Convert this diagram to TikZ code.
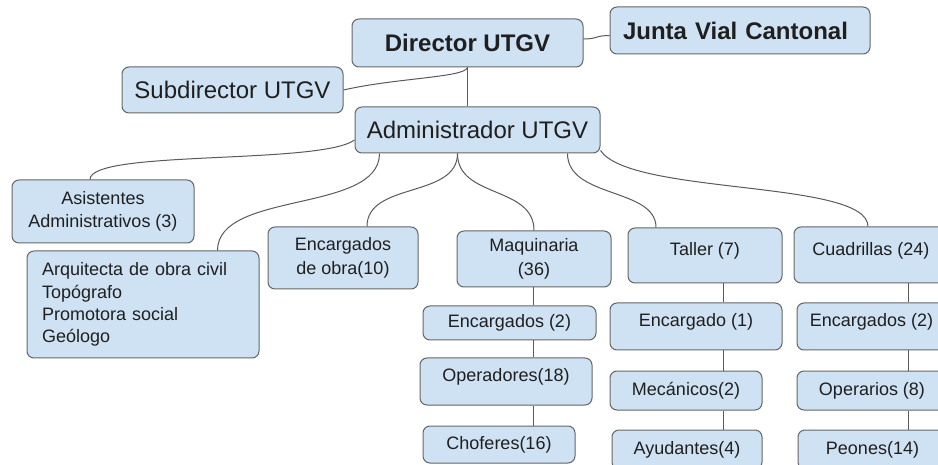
\documentclass[tikz,border=0pt]{standalone}
\usepackage{fontspec}
\setmainfont{Liberation Sans}
\definecolor{boxfill}{HTML}{CFE2F3}
\definecolor{boxline}{HTML}{666666}
\definecolor{wirecol}{HTML}{5A5A5A}
\definecolor{ink}{HTML}{1F1F1F}
\tikzset{
  unit/.style={draw=boxline, fill=boxfill, rounded corners=7pt, line width=1pt,
    inner sep=0pt, text=ink, align=center, font=\fontsize{18}{23.5}\selectfont},
  bigunit/.style={unit, font=\fontsize{24}{28}\selectfont},
  topline/.style={text depth=13pt},
  wire/.style={draw=wirecol, line width=1pt}
}
\begin{document}
\begin{tikzpicture}[x=1pt, y=-1pt]
\useasboundingbox[fill=white] (0,0) rectangle (938,465);

\node[bigunit, minimum width=231pt, minimum height=48pt] (dir) at (467.5,43) {\textbf{Director UTGV}};
\node[bigunit, minimum height=47pt, text width=234pt, inner xsep=13pt, align=left] (junta) at (740,30.5) {\textbf{Junta Vial Cantonal}};
\node[bigunit, minimum width=221pt, minimum height=46pt] (sub) at (232.5,90) {Subdirector UTGV};
\node[bigunit, minimum width=245pt, minimum height=46pt] (adm) at (477.5,130) {Administrador UTGV};

\node[unit, minimum width=182pt, minimum height=63pt] (asis) at (103,211.5) {Asistentes\\Administrativos (3)};
\node[unit, minimum height=107pt, text width=202pt, inner xsep=15pt, align=left,
  font=\fontsize{18}{22.3}\selectfont] (arq) at (143,304.5)
  {Arquitecta de obra civil\\Top\'ografo\\Promotora social\\Ge\'ologo};
\node[unit, minimum width=150pt, minimum height=62pt] (obra) at (343,258) {Encargados\\de obra(10)};
\node[unit, minimum width=154pt, minimum height=56pt] (maq) at (534,259) {Maquinaria\\(36)};
\node[unit, topline, minimum width=154pt, minimum height=55pt] (taller) at (705,255.5) {Taller (7)};
\node[unit, topline, minimum width=154pt, minimum height=56pt] (cuad) at (871,255) {Cuadrillas (24)};

\node[unit, minimum width=173pt, minimum height=34pt] (maqenc) at (509.5,323) {Encargados (2)};
\node[unit, topline, minimum width=172pt, minimum height=47pt] (oper) at (506,381.5) {Operadores(18)};
\node[unit, minimum width=152pt, minimum height=37pt] (chof) at (499,444.5) {Choferes(16)};

\node[unit, topline, minimum width=172pt, minimum height=47pt] (talenc) at (696,326.5) {Encargado (1)};
\node[unit, minimum width=152pt, minimum height=39pt] (mec) at (686,390.5) {Mec\'anicos(2)};
\node[unit, minimum width=150pt, minimum height=39pt] (ayu) at (687,449.5) {Ayudantes(4)};

\node[unit, topline, minimum width=149pt, minimum height=47pt] (cuaenc) at (871.5,326.5) {Encargados (2)};
\node[unit, minimum width=150pt, minimum height=39pt] (opera) at (872,390.5) {Operarios (8)};
\node[unit, minimum width=149pt, minimum height=39pt] (peon) at (872.5,449.5) {Peones(14)};

\coordinate (maqline) at (533,0);
\coordinate (talline) at (723,0);
\coordinate (cualine) at (908,0);

\draw[wire] ([yshift=4pt]dir.east) .. controls +(14,0) and +(-14,0) .. ([yshift=-5pt]junta.west);
\draw[wire] (dir.south) -- (dir.south |- adm.north);
\draw[wire] (dir.south) .. controls +(-2.5,10) and +(52,-12) .. (sub.east);

\draw[wire] ([yshift=-10pt]adm.west) .. controls +(-35,25) and +(0,-30) .. ([xshift=-13pt]asis.north);
\draw[wire] ([xshift=25pt]adm.south west) .. controls +(0,60) and +(0,-60) .. ([xshift=-42pt]arq.north east);
\draw[wire] ([xshift=103pt]adm.south west) .. controls +(0,45) and +(0,-45) .. ([xshift=24pt]obra.north);
\draw[wire] ([xshift=103pt]adm.south west) .. controls +(0,45) and +(0,-45) .. (maq.north);
\draw[wire] ([xshift=213pt]adm.south west) .. controls +(0,45) and +(0,-40) .. ([xshift=-49pt]taller.north);
\draw[wire] ([yshift=3pt]adm.south east) .. controls +(30,45) and +(0,-47) .. ([xshift=-3pt]cuad.north);

\draw[wire] (maqline |- maq.south) -- (maqline |- maqenc.north);
\draw[wire] (maqline |- maqenc.south) -- (maqline |- oper.north);
\draw[wire] (maqline |- oper.south) -- (maqline |- chof.north);

\draw[wire] (talline |- taller.south) -- (talline |- talenc.north);
\draw[wire] (talline |- talenc.south) -- (talline |- mec.north);
\draw[wire] (talline |- mec.south) -- (talline |- ayu.north);

\draw[wire] (cualine |- cuad.south) -- (cualine |- cuaenc.north);
\draw[wire] (cualine |- cuaenc.south) -- (cualine |- opera.north);
\draw[wire] (cualine |- opera.south) -- (cualine |- peon.north);
\end{tikzpicture}
\end{document}
